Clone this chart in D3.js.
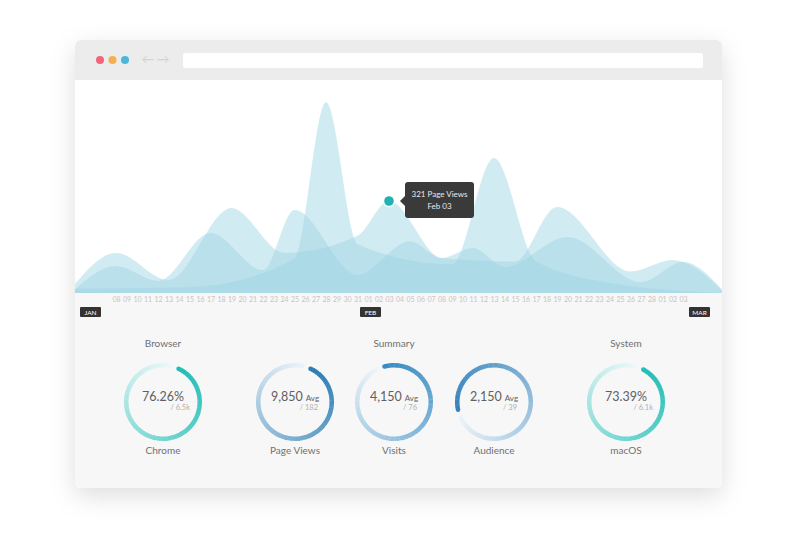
<!DOCTYPE html>
<html>
<head>
    <meta charset="utf-8">
    <script src="https://d3js.org/d3.v7.min.js"></script>
    <style>
        body { margin: 0; background: #fff; }
        text { font-family: Lato, "Open Sans", sans-serif; }
    </style>
</head>
<body>
    <svg id="page" width="800" height="534"></svg>
    <script>
        // ---- data ----
        var firstTick = '2019 Jan 08';
        var lastTick = '2019 Mar 03';
        var months = ['JAN', 'FEB', 'MAR'];
        var monthStarts = ['2019 Jan 01', '2019 Feb 01', '2019 Mar 01'];

        // three overlapping page-view series (dates of the turning points and their values)
        var spikeDays = ['Jan 04', 'Jan 15', 'Jan 25', 'Jan 28', 'Jan 31', 'Feb 09', 'Feb 13', 'Feb 17', 'Feb 25', 'Mar 07'];
        var spikeViews = [15, 20, 120, 666, 170, 100, 471, 110, 30, 0];

        var humpDays = ['Jan 04', 'Jan 08', 'Jan 13', 'Jan 19', 'Jan 24', 'Jan 31', 'Feb 03', 'Feb 08', 'Feb 15', 'Feb 19', 'Feb 26', 'Mar 02', 'Mar 07'];
        var humpViews = [28, 140, 45, 297, 140, 200, 321, 122, 110, 300, 75, 115, 0];

        var baseDays = ['Jan 04', 'Jan 08', 'Jan 12', 'Jan 17', 'Jan 22', 'Jan 25', 'Jan 31', 'Feb 05', 'Feb 08', 'Feb 11', 'Feb 14', 'Feb 20', 'Feb 27', 'Mar 03', 'Mar 07'];
        var baseViews = [10, 94, 42, 209, 80, 290, 63, 181, 122, 157, 91, 195, 38, 108, 0];

        var tipDay = 'Feb 03';
        var tipViews = 321;

        var groupTitles = ['Browser', '', 'Summary', '', 'System'];
        var donutLabels = ['Chrome', 'Page Views', 'Visits', 'Audience', 'macOS'];
        var donutValues = ['76.26%', '9,850', '4,150', '2,150', '73.39%'];
        var donutUnits = ['', 'Avg', 'Avg', 'Avg', ''];
        var donutTotals = ['/ 6.5k', '/ 182', '/ 76', '/ 39', '/ 6.1k'];

        // ring look (not data)
        var ringColors = ['#22bdb6', '#2a7db5', '#3a8cc1', '#3583bc', '#22bdb6'];
        var ringHeads = [25, 25, -15, 258, 28];

        var parse = d3.timeParse('%Y %b %d');
        function day(s) { return parse('2019 ' + s); }

        var svg = d3.select('#page');

        // card with shadow
        var defs = svg.append('defs');
        var shadow = defs.append('filter').attr('id', 'shadow')
            .attr('x', '-20%').attr('y', '-20%').attr('width', '140%').attr('height', '140%');
        shadow.append('feDropShadow')
            .attr('dx', 0).attr('dy', 8).attr('stdDeviation', 12)
            .attr('flood-color', '#000').attr('flood-opacity', 0.13);
        defs.append('clipPath').attr('id', 'plot')
            .append('rect').attr('x', 75).attr('y', 80).attr('width', 647).attr('height', 213);

        svg.append('rect')
            .attr('x', 75).attr('y', 40).attr('width', 647).attr('height', 448)
            .attr('rx', 6).attr('fill', '#fff')
            .attr('filter', 'url(#shadow)');

        // browser top bar
        svg.append('path')
            .attr('d', 'M75,80 V46 a6,6 0 0 1 6,-6 H716 a6,6 0 0 1 6,6 V80 Z')
            .attr('fill', '#ececec');
        svg.selectAll('.light')
            .data(['#f2647c', '#f4b04c', '#4db6d8'])
            .enter().append('circle')
            .attr('cx', function(d, i) { return 100 + i * 12.5; })
            .attr('cy', 60).attr('r', 4)
            .attr('fill', function(d) { return d; });
        svg.append('text').attr('x', 148).attr('y', 64).attr('text-anchor', 'middle')
            .attr('font-size', 13).attr('fill', '#d4d4d4').text('\u2190');
        svg.append('text').attr('x', 163).attr('y', 64).attr('text-anchor', 'middle')
            .attr('font-size', 13).attr('fill', '#d4d4d4').text('\u2192');
        svg.append('rect')
            .attr('x', 183).attr('y', 53).attr('width', 520).attr('height', 15)
            .attr('rx', 2).attr('fill', '#fff');

        // lower grey panel
        svg.append('path')
            .attr('d', 'M75,293 H722 V482 a6,6 0 0 1 -6,6 H81 a6,6 0 0 1 -6,-6 Z')
            .attr('fill', '#f7f7f7');

        // scales
        var x = d3.scaleTime()
            .domain([parse(firstTick), parse(lastTick)])
            .range([116, 683]);
        var y = d3.scaleLinear()
            .domain([0, 700])
            .range([293, 92.4]);

        var area = d3.area()
            .x(function(d) { return x(d[0]); })
            .y0(y(0))
            .y1(function(d) { return y(d[1]); })
            .curve(d3.curveMonotoneX);

        var series = [
            d3.zip(baseDays.map(day), baseViews),
            d3.zip(humpDays.map(day), humpViews),
            d3.zip(spikeDays.map(day), spikeViews)
        ];

        svg.append('g').attr('clip-path', 'url(#plot)')
            .selectAll('path')
            .data(series)
            .enter().append('path')
            .attr('d', area)
            .attr('fill', '#9dd4e4')
            .attr('fill-opacity', 0.47);

        // day axis
        var ticks = d3.timeDay.range(parse(firstTick), d3.timeDay.offset(parse(lastTick), 1));
        var axis = svg.append('g')
            .attr('transform', 'translate(0,' + y(0) + ')')
            .call(d3.axisBottom(x)
                .tickValues(ticks)
                .tickFormat(d3.timeFormat('%d'))
                .tickSize(0)
                .tickPadding(4));
        axis.select('.domain').remove();
        axis.selectAll('text')
            .attr('font-family', 'Lato, sans-serif')
            .attr('font-size', 7)
            .attr('fill', '#c8c4c4');

        // month badges
        var badges = svg.selectAll('.month')
            .data(months)
            .enter().append('g')
            .attr('transform', function(d, i) {
                var bx;
                if (i === 0) bx = 80;
                else if (i === months.length - 1) bx = 689;
                else bx = x(parse(monthStarts[i])) - 8;
                return 'translate(' + bx + ',307)';
            });
        badges.append('rect')
            .attr('width', 21).attr('height', 10).attr('rx', 1)
            .attr('fill', '#333');
        badges.append('text')
            .attr('x', 10.5).attr('y', 7.5)
            .attr('text-anchor', 'middle')
            .attr('font-size', 6.5)
            .attr('fill', '#fff')
            .text(function(d) { return d; });

        // tooltip
        var tx = x(day(tipDay));
        var ty = y(tipViews);
        svg.append('circle')
            .attr('cx', tx).attr('cy', ty).attr('r', 6.5)
            .attr('fill', '#fff').attr('fill-opacity', 0.6);
        svg.append('circle')
            .attr('cx', tx).attr('cy', ty).attr('r', 4.8)
            .attr('fill', '#22b2b4');
        var tip = svg.append('g').attr('transform', 'translate(' + (tx + 16) + ',' + (ty - 19) + ')');
        tip.append('rect')
            .attr('width', 69).attr('height', 36).attr('rx', 3)
            .attr('fill', '#3a3a3a');
        tip.append('path')
            .attr('d', 'M0,14 L-5,19 L0,24 Z')
            .attr('fill', '#3a3a3a');
        tip.append('text')
            .attr('x', 34.5).attr('y', 15)
            .attr('text-anchor', 'middle')
            .attr('font-size', 8).attr('fill', '#e8e8e8')
            .text(tipViews + ' Page Views');
        tip.append('text')
            .attr('x', 34.5).attr('y', 27)
            .attr('text-anchor', 'middle')
            .attr('font-size', 8).attr('fill', '#e8e8e8')
            .text(tipDay);

        // donuts
        var centers = [163, 295, 394, 494, 626];
        var cy = 402;
        var rIn = 34.5, rOut = 39;
        var steps = 90;
        var arc = d3.arc().innerRadius(rIn).outerRadius(rOut);

        donutLabels.forEach(function(label, i) {
            var g = svg.append('g').attr('transform', 'translate(' + centers[i] + ',' + cy + ')');
            var head = ringHeads[i] * Math.PI / 180;
            var span = 2 * Math.PI * 0.97;
            var pale = d3.interpolateRgb(ringColors[i], '#ffffff');
            var segs = d3.range(steps).map(function(k) {
                return { k: k, a0: head + span * k / steps, a1: head + span * (k + 1) / steps + 0.01 };
            });
            g.selectAll('path')
                .data(segs)
                .enter().append('path')
                .attr('d', function(d) { return arc({ startAngle: d.a0, endAngle: d.a1 }); })
                .attr('fill', function(d) { return pale(Math.pow(d.k / steps, 1.1) * 0.92); });
            g.append('circle')
                .attr('cx', Math.sin(head) * (rIn + rOut) / 2)
                .attr('cy', -Math.cos(head) * (rIn + rOut) / 2)
                .attr('r', (rOut - rIn) / 2)
                .attr('fill', ringColors[i]);

            var main = g.append('text')
                .attr('y', -1)
                .attr('text-anchor', 'middle')
                .attr('fill', '#606060');
            main.append('tspan').attr('font-size', 12.5).text(donutValues[i]);
            if (donutUnits[i]) {
                main.append('tspan').attr('dx', 3).attr('font-size', 8).text(donutUnits[i]);
            }
            g.append('text')
                .attr('x', donutUnits[i] ? 23 : 27).attr('y', 8)
                .attr('text-anchor', 'end')
                .attr('font-size', 7.5).attr('fill', '#b0b0b0')
                .text(donutTotals[i]);

            g.append('text')
                .attr('y', 52)
                .attr('text-anchor', 'middle')
                .attr('font-size', 10).attr('fill', '#707070')
                .text(label);
            if (groupTitles[i]) {
                g.append('text')
                    .attr('y', -55)
                    .attr('text-anchor', 'middle')
                    .attr('font-size', 10).attr('fill', '#707070')
                    .text(groupTitles[i]);
            }
        });
    </script>
</body>
</html>
